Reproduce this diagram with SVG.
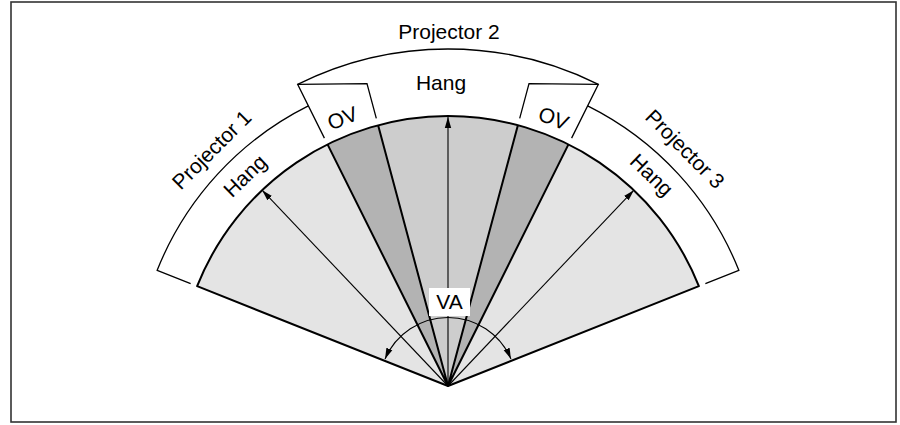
<svg xmlns="http://www.w3.org/2000/svg" width="900" height="425" viewBox="0 0 900 425">
  <style>
    .t { font-family: "Liberation Sans", Arial, sans-serif; font-size: 21px; fill: #000; }
    .edge { fill: none; stroke: #000; stroke-width: 2; stroke-linejoin: round; }
    .br { fill: none; stroke: #000; stroke-width: 1.3; }
    .arr { fill: none; stroke: #000; stroke-width: 1.1; }
  </style>
  <defs>
    <marker id="ah" markerUnits="userSpaceOnUse" markerWidth="11" markerHeight="8" refX="11" refY="4" orient="auto-start-reverse">
      <path d="M0,0.8 L11,4 L0,7.2 Z" fill="#000"/>
    </marker>
  </defs>

  <rect id="frame" x="11" y="2" width="885" height="420" fill="#fff" stroke="#333" stroke-width="1.6"/>

  <g id="fan">
    <path d="M448,386 L197.13,286.17 A270,270 0 0 1 327.53,144.37 Z" fill="#e4e4e4"/>
    <path d="M448,386 L327.53,144.37 A270,270 0 0 1 378.12,125.20 Z" fill="#b3b3b3"/>
    <path d="M448,386 L378.12,125.20 A270,270 0 0 1 517.88,125.20 Z" fill="#cdcdcd"/>
    <path d="M448,386 L517.88,125.20 A270,270 0 0 1 568.47,144.37 Z" fill="#b3b3b3"/>
    <path d="M448,386 L568.47,144.37 A270,270 0 0 1 698.87,286.17 Z" fill="#e4e4e4"/>
    <path class="edge" d="M448,386 L197.13,286.17 A270,270 0 0 1 698.87,286.17 Z"/>
    <path class="edge" d="M448,386 L327.53,144.37 M448,386 L378.12,125.20 M448,386 L517.88,125.20 M448,386 L568.47,144.37"/>
  </g>

  <g id="projector1">
    <path class="br" d="M190.63,283.58 L157.18,270.27 A313,313 0 0 1 308.34,105.89"/>
    <text class="t" x="448" y="59" text-anchor="middle" transform="rotate(-45 448 386)">Projector 1</text>
    <text class="t" x="448" y="101" text-anchor="middle" transform="rotate(-44 448 386)">Hang</text>
  </g>

  <g id="projector2">
    <path class="br" d="M324.40,138.10 L297.63,84.41 A337,337 0 0 1 598.37,84.41 L571.60,138.10"/>
    <text class="t" x="449" y="39" text-anchor="middle">Projector 2</text>
    <text class="t" x="441" y="90" text-anchor="middle">Hang</text>
  </g>

  <g id="projector3">
    <path class="br" d="M705.37,283.58 L738.82,270.27 A313,313 0 0 0 587.66,105.89"/>
    <text class="t" x="448" y="58" text-anchor="middle" transform="rotate(45 448 386)">Projector 3</text>
    <text class="t" x="448" y="100" text-anchor="middle" transform="rotate(44 448 386)">Hang</text>
  </g>

  <g id="overlap-left">
    <path class="br" d="M297.63,84.41 L366.99,83.66 L376.31,118.44"/>
    <text class="t" x="448" y="105.5" text-anchor="middle" transform="rotate(-21.5 448 386)">OV</text>
  </g>

  <g id="overlap-right">
    <path class="br" d="M598.37,84.41 L529.01,83.66 L519.69,118.44"/>
    <text class="t" x="448" y="105.5" text-anchor="middle" transform="rotate(21.5 448 386)">OV</text>
  </g>

  <g id="connectors">
    <path class="arr" d="M448,386 L448,117" marker-end="url(#ah)" stroke-width="1.3"/>
    <path class="arr" d="M448,386 L262.15,190.15" marker-end="url(#ah)"/>
    <path class="arr" d="M448,386 L633.85,190.15" marker-end="url(#ah)"/>
    <path class="arr" d="M385.04,359.02 A68.5,68.5 0 0 1 510.96,359.02" marker-start="url(#ah)" marker-end="url(#ah)" stroke-width="1.3"/>
  </g>

  <g id="va-label">
    <rect x="429" y="288" width="41" height="28" fill="#fff"/>
    <text class="t" x="449.5" y="309" text-anchor="middle">VA</text>
  </g>
</svg>
